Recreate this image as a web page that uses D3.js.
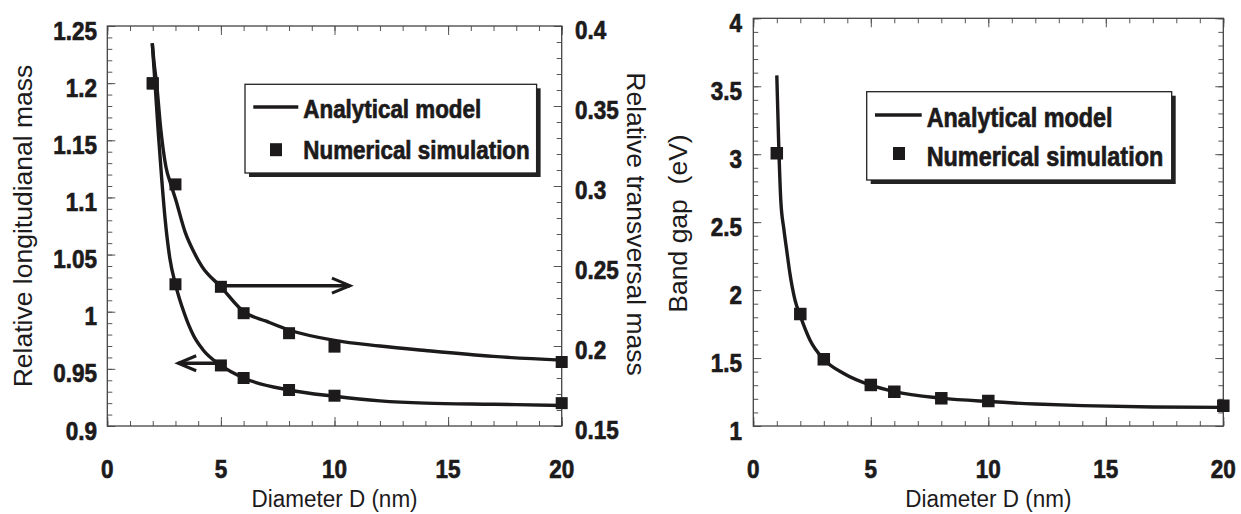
<!DOCTYPE html>
<html>
<head>
<meta charset="utf-8">
<script src="https://cdn.jsdelivr.net/npm/d3@7"></script>
<style>
  html, body { margin: 0; padding: 0; background: #fff; }
  svg { display: block; font-family: "Liberation Sans", Arial, sans-serif; }
</style>
</head>
<body>
<svg id="chart" width="1241" height="514"></svg>
<script>
// ---- data ----
var diamTicks = [0, 5, 10, 15, 20];
var diamTickLabels = ["0", "5", "10", "15", "20"];

// left panel: longitudinal mass (left axis) and transversal mass (right axis)
var longTicks = [0.9, 0.95, 1, 1.05, 1.1, 1.15, 1.2, 1.25];
var longTickLabels = ["0.9", "0.95", "1", "1.05", "1.1", "1.15", "1.2", "1.25"];
var transTicks = [0.15, 0.2, 0.25, 0.3, 0.35, 0.4];
var transTickLabels = ["0.15", "0.2", "0.25", "0.3", "0.35", "0.4"];

var simD = [2, 3, 5, 6, 8, 10, 20];
var longSim = [1.200, 1.024, 0.953, 0.942, 0.9315, 0.9265, 0.920];
var transSim = [0.364, 0.301, 0.237, 0.2205, 0.208, 0.1996, 0.190];

var longModelD = [1.98, 2.1, 2.25, 2.4, 2.55, 2.75, 3.0, 3.4, 3.8, 4.2, 5, 6, 8, 10, 12, 14, 17, 20];
var longModel = [1.235, 1.200, 1.155, 1.115, 1.080, 1.047, 1.024, 0.998, 0.979, 0.967, 0.953, 0.942, 0.9315, 0.926, 0.922, 0.920, 0.919, 0.918];
var transModelD = [1.98, 2.05, 2.17, 2.35, 2.58, 2.8, 3.0, 3.43, 3.8, 4.17, 5, 6, 7, 8, 10, 12, 14, 17, 20];
var transModel = [0.389, 0.378, 0.364, 0.336, 0.312, 0.301, 0.292, 0.271, 0.259, 0.2496, 0.237, 0.2215, 0.2155, 0.210, 0.2035, 0.200, 0.1972, 0.1935, 0.1912];

// right panel: band gap
var gapTicks = [1, 1.5, 2, 2.5, 3, 3.5, 4];
var gapTickLabels = ["1", "1.5", "2", "2.5", "3", "3.5", "4"];
var gapSimD = [1, 2, 3, 5, 6, 8, 10, 20];
var gapSim = [3.007, 1.824, 1.491, 1.302, 1.252, 1.204, 1.184, 1.149];
var gapModelD = [1.0, 1.08, 1.17, 1.3, 1.42, 1.56, 1.77, 2.0, 2.41, 3.0, 3.83, 5, 6, 8, 10, 12, 14, 17, 20];
var gapModel = [3.58, 3.08, 2.66, 2.45, 2.295, 2.12, 1.93, 1.81, 1.633, 1.49, 1.388, 1.30, 1.253, 1.205, 1.18, 1.162, 1.15, 1.14, 1.137];

var legendLabels = ["Analytical model", "Numerical simulation"];

var ink = "#1c1a1b";
var svg = d3.select("#chart");

// the original text looks heavy and a bit tall: stretch vertically, add a thin outline for bold
function label(g, str, x, y, o) {
  o = o || {};
  var t = g.append("text")
    .attr("transform", "translate(" + x + "," + y + ")" + (o.rotate ? " rotate(" + o.rotate + ")" : "") + " scale(1," + (o.sy || 1) + ")")
    .attr("text-anchor", o.anchor || "start")
    .attr("font-size", o.size || 22)
    .attr("font-weight", o.bold ? "bold" : "normal")
    .attr("fill", ink)
    .style("white-space", "pre")
    .text(str);
  if (o.bold) t.attr("stroke", ink).attr("stroke-width", 0.6);
  return t;
}

function ticks(g, axis, tr) {
  var a = g.append("g").attr("transform", tr).call(axis);
  a.select(".domain").remove();
  a.selectAll("text").remove();
  a.selectAll("line").attr("stroke", "#555").attr("stroke-width", 1);
}

function frame(g, x, y) {
  g.append("rect")
    .attr("x", x.range()[0]).attr("y", y.range()[1])
    .attr("width", x.range()[1] - x.range()[0])
    .attr("height", y.range()[0] - y.range()[1])
    .attr("fill", "none").attr("stroke", "#444").attr("stroke-width", 1.3);
}

function xTicks(g, x, y) {
  var minor = d3.range(0, 21, 1);
  ticks(g, d3.axisBottom(x).tickValues(minor).tickSize(-5), "translate(0," + y.range()[0] + ")");
  ticks(g, d3.axisBottom(x).tickValues(diamTicks).tickSize(-9), "translate(0," + y.range()[0] + ")");
  ticks(g, d3.axisTop(x).tickValues(minor).tickSize(-5), "translate(0," + y.range()[1] + ")");
  ticks(g, d3.axisTop(x).tickValues(diamTicks).tickSize(-9), "translate(0," + y.range()[1] + ")");
  diamTicks.forEach(function(d, i) {
    label(g, diamTickLabels[i], x(d), 478, {anchor: "middle", bold: true, size: 22.5, sy: 1.14});
  });
  label(g, "Diameter D (nm)", (x.range()[0] + x.range()[1]) / 2, 507, {anchor: "middle", size: 22.5, sy: 1.1});
}

function yTicks(g, y, x0, side, minorStep, majors) {
  var d = y.domain();
  var n = Math.round((d[1] - d[0]) / minorStep);
  var minor = d3.range(0, n + 1).map(function(i) { return d[0] + i * minorStep; });
  var ax = side === "left" ? d3.axisLeft : d3.axisRight;
  ticks(g, ax(y).tickValues(minor).tickSize(-5), "translate(" + x0 + ",0)");
  ticks(g, ax(y).tickValues(majors).tickSize(-8), "translate(" + x0 + ",0)");
}

function curve(g, x, y, xs, ys) {
  var pts = xs.map(function(d, i) { return [d, ys[i]]; });
  g.append("path")
    .attr("d", d3.line().x(function(p) { return x(p[0]); }).y(function(p) { return y(p[1]); }).curve(d3.curveMonotoneX)(pts))
    .attr("fill", "none").attr("stroke", ink).attr("stroke-width", 3.4).attr("stroke-linejoin", "round");
}

function markers(g, x, y, xs, ys, s) {
  g.selectAll(null).data(xs).enter().append("rect")
    .attr("x", function(d) { return x(d) - s / 2; })
    .attr("y", function(d, i) { return y(ys[i]) - s / 2; })
    .attr("width", s).attr("height", s)
    .attr("fill", ink);
}

function legend(g, bx, by, bw, bh, lx, fs, rows) {
  g.append("rect").attr("x", bx + 4).attr("y", by + 4).attr("width", bw).attr("height", bh).attr("fill", "#222");
  g.append("rect").attr("x", bx).attr("y", by).attr("width", bw).attr("height", bh)
    .attr("fill", "#fff").attr("stroke", "#222").attr("stroke-width", 1.3);
  g.append("line").attr("x1", rows.line[0]).attr("x2", rows.line[1]).attr("y1", rows.line[2]).attr("y2", rows.line[2])
    .attr("stroke", ink).attr("stroke-width", 3.4);
  g.append("rect").attr("x", rows.mark[0] - 6).attr("y", rows.mark[1] - 6.5).attr("width", 12).attr("height", 13).attr("fill", ink);
  label(g, legendLabels[0], lx, rows.base[0], {bold: true, size: fs, sy: 1.18});
  label(g, legendLabels[1], lx, rows.base[1], {bold: true, size: fs, sy: 1.18});
}

function arrow(g, x1, x2, y) {
  var dir = x2 > x1 ? 1 : -1;
  g.append("line").attr("x1", x1).attr("x2", x2).attr("y1", y).attr("y2", y)
    .attr("stroke", ink).attr("stroke-width", 3.4);
  g.append("path")
    .attr("d", "M" + (x2 - dir * 18) + "," + (y - 7.5) + "L" + x2 + "," + y + "L" + (x2 - dir * 18) + "," + (y + 7.5))
    .attr("fill", "none").attr("stroke", ink).attr("stroke-width", 3).attr("stroke-linejoin", "miter");
}

// ---- left panel ----
var xL = d3.scaleLinear().domain([0, 20]).range([107.3, 561.7]);
var yLL = d3.scaleLinear().domain([0.9, 1.25]).range([426, 26]);
var yLR = d3.scaleLinear().domain([0.15, 0.4]).range([426, 26]);
var gL = svg.append("g");

yTicks(gL, yLL, xL.range()[0], "left", 0.01, longTicks);
yTicks(gL, yLR, xL.range()[1], "right", 0.01, transTicks);
xTicks(gL, xL, yLL);
frame(gL, xL, yLL);

longTicks.forEach(function(d, i) {
  label(gL, longTickLabels[i], 97, yLL(d) + 13.5, {anchor: "end", bold: true, size: 22.5, sy: 1.14});
});
transTicks.forEach(function(d, i) {
  label(gL, transTickLabels[i], 575, yLR(d) + 13, {bold: true, size: 22.5, sy: 1.14});
});
label(gL, "Relative longitudianal mass", 32, (yLL.range()[0] + yLL.range()[1]) / 2, {anchor: "middle", size: 26.5, rotate: -90});
label(gL, "Relative transversal mass", 627, 224, {anchor: "middle", size: 26.5, rotate: 90});

curve(gL, xL, yLL, longModelD, longModel);
curve(gL, xL, yLR, transModelD, transModel);
markers(gL, xL, yLL, simD, longSim, 12);
markers(gL, xL, yLR, simD, transSim, 12);

arrow(gL, xL(5), xL(10.68), yLR(0.2377));
arrow(gL, xL(5), xL(3.12), yLL(0.9549));

legend(gL, 245, 84.3, 291.6, 88.7, 303.3, 22.4,
  {line: [253.3, 298.3, 107], mark: [276, 149.7], base: [117.5, 158.5]});

// ---- right panel ----
var xR = d3.scaleLinear().domain([0, 20]).range([753.3, 1223.3]);
var yR = d3.scaleLinear().domain([1, 4]).range([426, 18.3]);
var gR = svg.append("g");

yTicks(gR, yR, xR.range()[0], "left", 0.1, gapTicks);
yTicks(gR, yR, xR.range()[1], "right", 0.1, gapTicks);
xTicks(gR, xR, yR);
frame(gR, xR, yR);

gapTicks.forEach(function(d, i) {
  label(gR, gapTickLabels[i], 742, yR(d) + 14, {anchor: "end", bold: true, size: 22.5, sy: 1.14});
});
label(gR, "Band gap  (eV)", 687, 223.5, {anchor: "middle", size: 26.5, rotate: -90});

curve(gR, xR, yR, gapModelD, gapModel);
markers(gR, xR, yR, gapSimD, gapSim, 12.5);

legend(gR, 866.7, 91.7, 305, 88.3, 926.7, 23.4,
  {line: [875, 921.7, 115], mark: [899, 153.5], base: [127, 165.5]});
</script>
</body>
</html>
